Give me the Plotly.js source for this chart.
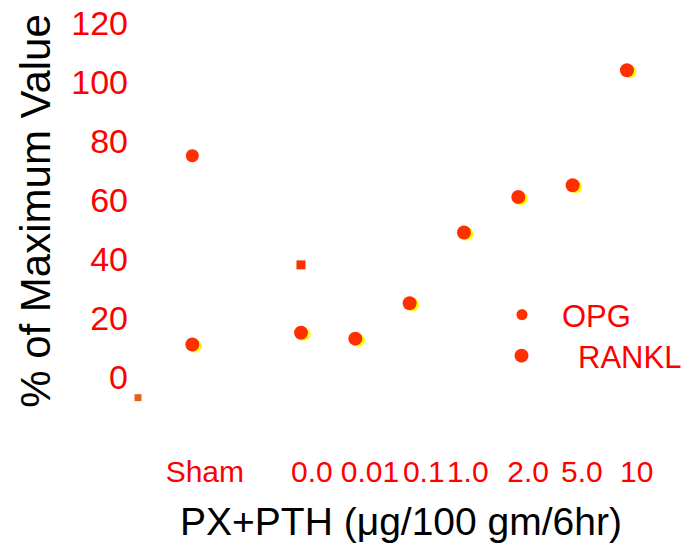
<!DOCTYPE html>
<html>
<head>
<meta charset="utf-8">
<script src="https://cdn.plot.ly/plotly-3.0.1.min.js"></script>
<style>html,body{margin:0;padding:0;background:#fff;}#chart{width:694px;height:551px;}</style>
</head>
<body>
<div id="chart"></div>
<script>
// ---- data ----
const categories   = ['Sham', '0.0', '0.01', '0.1', '1.0', '2.0', '5.0', '10'];
const categoryPos  = [1, 3, 4, 5, 6, 7, 8, 9];          // numeric x position of each group
const labelPos     = [1.23, 3.20, 4.27, 5.26, 6.07, 7.18, 8.17, 9.18]; // where tick texts sit
const yTicks       = [0, 20, 40, 60, 80, 100, 120];

const opgX   = ['Sham', '0.0'];
const opgY   = [75, 38];
const ranklX = ['Sham', '0.0', '0.01', '0.1', '1.0', '2.0', '5.0', '10'];
const ranklY = [11, 15, 13, 25, 49, 61, 65, 104];
const strayX = [0];
const strayY = [-7];

// styles
const opgSymbols = ['circle', 'square'];
const opgSizes   = [14, 10];
const RED = '#ff0000', MARK = '#ff3000', YEL = '#ffff00';
const FONT = 'Arial, "Liberation Sans", sans-serif';

const toPos = arr => arr.map(c => categoryPos[categories.indexOf(c)]);

const L = 133, R = 2, T = 8, B = 137;
const paperW = 694 - L - R, plotH = 551 - T - B;
const domainW = 536;                       // x domain narrower than the paper so the title centres at 401px
const xDomain = [0, domainW / paperW];
const xRange = [-0.092, -0.092 + domainW / 54.33];
const yRange = [-12.54, 125.08];
const pxX = domainW / (xRange[1] - xRange[0]);
const pxY = plotH / (yRange[1] - yRange[0]);

const traces = [
  {
    x: strayX, y: strayY, showlegend: false,
    type: 'scatter', mode: 'markers',
    marker: { color: '#e4621c', size: 7, symbol: 'square', opacity: 1 }
  },
  { // yellow shadow of RANKL marks (slightly shifted overlay axes)
    x: toPos(ranklX), y: ranklY, xaxis: 'x2', yaxis: 'y2',
    type: 'scatter', mode: 'markers', showlegend: false, hoverinfo: 'skip',
    marker: { color: YEL, size: 13, symbol: 'circle', opacity: 1 }
  },
  {
    x: toPos(ranklX), y: ranklY, name: 'RANKL', legend: 'legend2',
    xaxis: 'x3', yaxis: 'y3',
    type: 'scatter', mode: 'markers',
    marker: { color: MARK, size: 14, symbol: 'circle', opacity: 1 }
  },
  {
    x: toPos(opgX), y: opgY, name: 'OPG', legend: 'legend',
    xaxis: 'x3', yaxis: 'y3',
    type: 'scatter', mode: 'markers',
    marker: { color: MARK, size: opgSizes, symbol: opgSymbols, opacity: 1 }
  }
];

const layout = {
  width: 694, height: 551,
  margin: { l: L, r: R, t: T, b: B },
  paper_bgcolor: '#fff', plot_bgcolor: '#fff',
  font: { family: FONT, color: RED },
  xaxis: {
    domain: xDomain,
    range: xRange, tickmode: 'array', tickvals: labelPos, ticktext: categories,
    showgrid: false, zeroline: false, showline: false, ticks: '', tickangle: 0,
    tickfont: { size: 30, color: RED, family: FONT },
    ticklabelstandoff: 37,
    title: { text: 'PX+PTH (\u03bcg/100 gm/6hr)', font: { size: 39, color: '#000', family: FONT }, standoff: 20 }
  },
  yaxis: {
    range: yRange, tickmode: 'array', tickvals: yTicks,
    showgrid: false, zeroline: false, showline: false, ticks: '',
    tickfont: { size: 34, color: RED, family: FONT },
    ticklabelstandoff: 4,
    title: { text: '% of Maximum Value', font: { size: 42, color: '#000', family: FONT }, standoff: 7 }
  },
  xaxis2: { overlaying: 'x', anchor: 'y2', range: [xRange[0] - 3 / pxX, xRange[1] - 3 / pxX], visible: false },
  yaxis2: { overlaying: 'y', anchor: 'x2', range: [yRange[0] + 1.5 / pxY, yRange[1] + 1.5 / pxY], visible: false },
  xaxis3: { overlaying: 'x', anchor: 'y3', range: xRange, visible: false },
  yaxis3: { overlaying: 'y', anchor: 'x3', range: yRange, visible: false },
  legend: {
    x: (482 - L) / paperW, y: (T + plotH - 315) / plotH, xanchor: 'left', yanchor: 'middle',
    bgcolor: 'rgba(0,0,0,0)', borderwidth: 0, itemwidth: 70,
    font: { size: 31, color: RED, family: FONT }
  },
  legend2: {
    x: (465 - L) / paperW, y: (T + plotH - 356) / plotH, xanchor: 'left', yanchor: 'middle',
    bgcolor: 'rgba(0,0,0,0)', borderwidth: 0, itemwidth: 103,
    font: { size: 31, color: RED, family: FONT }
  },
  showlegend: true
};

Plotly.newPlot('chart', traces, layout, { displayModeBar: false, staticPlot: true });
</script>
</body>
</html>
